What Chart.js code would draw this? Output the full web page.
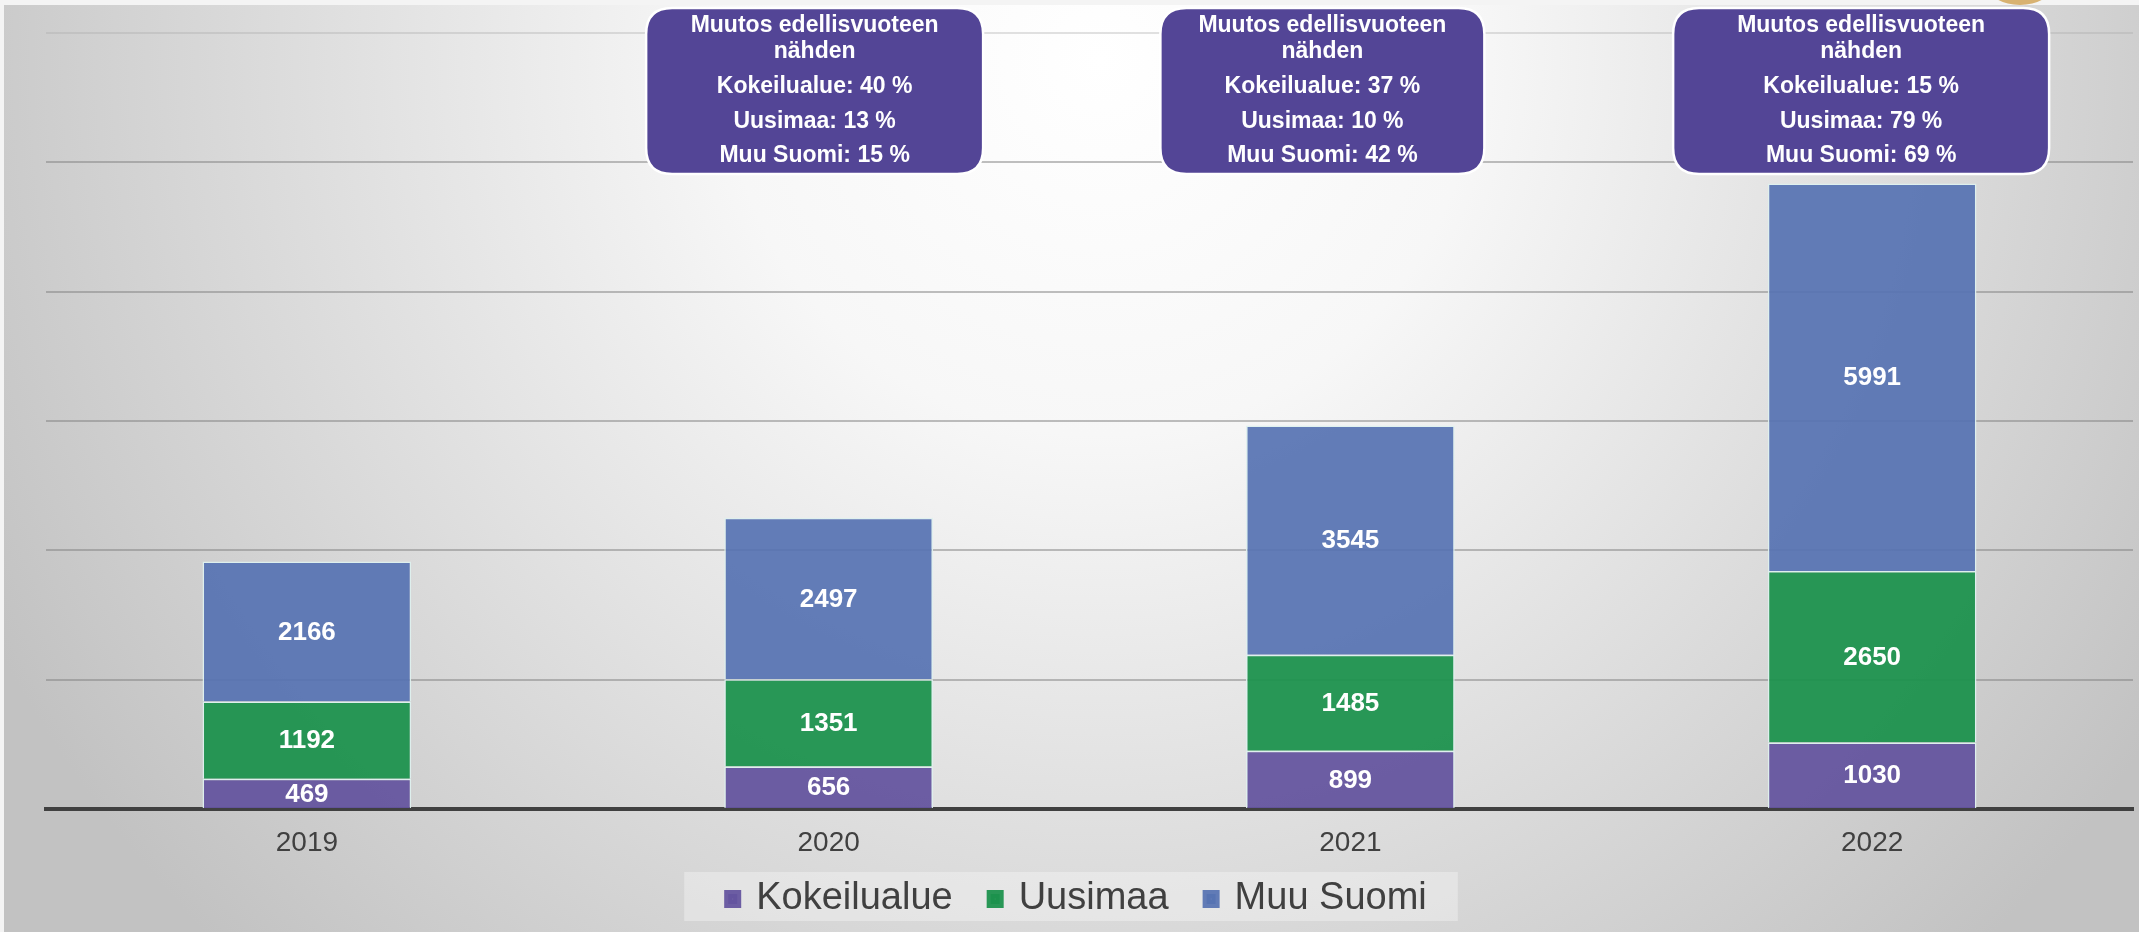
<!DOCTYPE html>
<html lang="fi">
<head>
<meta charset="utf-8">
<title>Kokeilualue, Uusimaa ja Muu Suomi 2019–2022</title>
<script src="https://cdn.jsdelivr.net/npm/chart.js@4.4.1/dist/chart.umd.min.js"></script>
<style>
  html, body { margin: 0; padding: 0; background: #fff; }
  #wrap { width: 2139px; height: 932px; }
</style>
</head>
<body>
<div id="wrap"><canvas id="chart" width="2139" height="932"></canvas></div>
<script>
// --- data ---
const years = ['2019', '2020', '2021', '2022'];
const kokeilualue = [469, 656, 899, 1030];
const uusimaa = [1192, 1351, 1485, 2650];
const muuSuomi = [2166, 2497, 3545, 5991];

// change from previous year, as printed in the boxes (%)
const changeKokeilualue = [null, 40, 37, 15];
const changeUusimaa = [null, 13, 10, 79];
const changeMuuSuomi = [null, 15, 42, 69];

const yMax = 12000;
const yStep = 2000;

// --- styling ---
const FONT = '"Liberation Sans", Arial, sans-serif';
const COLORS = {
  kokeilu: 'rgba(100, 84, 158, 0.94)',
  uusimaa: 'rgba(28, 146, 76, 0.94)',
  muu: 'rgba(86, 114, 178, 0.92)',
  edge: 'rgba(222, 240, 238, 0.95)',
  boxFill: '#534596',
  text: '#404040'
};
// annotation box placement relative to its bar (px)
const boxLayout = [null, { dx: -14, w: 337 }, { dx: -28, w: 324 }, { dx: -11, w: 376 }];

// background: soft radial grey, white frame on top/left
const backgroundPlugin = {
  id: 'slideBackground',
  beforeDraw(chart) {
    const { ctx, width, height } = chart;
    ctx.save();
    ctx.fillStyle = '#f4f4f4';
    ctx.fillRect(0, 0, width, height);
    const g = ctx.createRadialGradient(1100, 60, 0, 1100, 60, 1250);
    g.addColorStop(0, '#ffffff');
    g.addColorStop(0.3, '#f7f7f7');
    g.addColorStop(1, '#c2c2c2');
    ctx.fillStyle = g;
    ctx.fillRect(4, 5, width - 4, height - 5);
    // bit of a logo peeking in at the top right
    ctx.fillStyle = '#d8b271';
    ctx.beginPath();
    ctx.ellipse(2020, -14, 32, 19, 0, 0, Math.PI * 2);
    ctx.fill();
    ctx.restore();
  }
};

// legend rows sit higher than its label padding would put them:
// pull the legend box's top edge up (bottom stays, so nothing is clipped)
const legendNudge = {
  id: 'legendNudge',
  afterLayout(chart) {
    const lg = chart.legend;
    if (!lg) return;
    lg.top -= 17;
    lg.height += 17;
  }
};

// light panel behind the legend
const legendPanel = {
  id: 'legendPanel',
  beforeDraw(chart) {
    const lg = chart.legend;
    if (!lg || !lg.legendHitBoxes || !lg.legendHitBoxes.length) return;
    const hb = lg.legendHitBoxes;
    const first = hb[0], last = hb[hb.length - 1];
    const { ctx } = chart;
    ctx.save();
    ctx.fillStyle = 'rgba(255,255,255,0.32)';
    ctx.fillRect(first.left - 44, first.top - 8, last.left + last.width - first.left + 75, first.height + 11);
    ctx.restore();
  }
};

// values in the middle of each segment
const segmentLabels = {
  id: 'segmentLabels',
  afterDatasetsDraw(chart) {
    const { ctx } = chart;
    ctx.save();
    ctx.fillStyle = '#ffffff';
    ctx.font = 'bold 26px ' + FONT;
    ctx.textAlign = 'center';
    ctx.textBaseline = 'middle';
    chart.data.datasets.forEach((ds, di) => {
      const meta = chart.getDatasetMeta(di);
      meta.data.forEach((bar, i) => {
        const v = ds.data[i];
        if (v == null) return;
        ctx.fillText(String(v), bar.x, (bar.y + bar.base) / 2 + 1);
      });
    });
    ctx.restore();
  }
};

function roundRect(ctx, x, y, w, h, r) {
  ctx.beginPath();
  ctx.moveTo(x + r, y);
  ctx.lineTo(x + w - r, y);
  ctx.quadraticCurveTo(x + w, y, x + w, y + r);
  ctx.lineTo(x + w, y + h - r);
  ctx.quadraticCurveTo(x + w, y + h, x + w - r, y + h);
  ctx.lineTo(x + r, y + h);
  ctx.quadraticCurveTo(x, y + h, x, y + h - r);
  ctx.lineTo(x, y + r);
  ctx.quadraticCurveTo(x, y, x + r, y);
  ctx.closePath();
}

// "Muutos edellisvuoteen nähden" callouts above the bars
const changeBoxes = {
  id: 'changeBoxes',
  afterDraw(chart) {
    const { ctx } = chart;
    const xs = chart.scales.x;
    const top = chart.chartArea.top - 25;
    const h = 166;
    ctx.save();
    years.forEach((yr, i) => {
      if (changeKokeilualue[i] == null) return;
      const cx = xs.getPixelForValue(i) + boxLayout[i].dx;
      const w = boxLayout[i].w;
      roundRect(ctx, cx - w / 2, top, w, h, 26);
      ctx.fillStyle = COLORS.boxFill;
      ctx.fill();
      ctx.lineWidth = 2.5;
      ctx.strokeStyle = '#ffffff';
      ctx.stroke();

      ctx.fillStyle = '#ffffff';
      ctx.font = 'bold 23px ' + FONT;
      ctx.textAlign = 'center';
      ctx.textBaseline = 'middle';
      const lines = [
        ['Muutos edellisvuoteen', 18],
        ['nähden', 44],
        ['Kokeilualue: ' + changeKokeilualue[i] + ' %', 79],
        ['Uusimaa: ' + changeUusimaa[i] + ' %', 114],
        ['Muu Suomi: ' + changeMuuSuomi[i] + ' %', 148]
      ];
      lines.forEach(([t, dy]) => ctx.fillText(t, cx, top + dy));
    });
    ctx.restore();
  }
};

const commonBar = {
  borderColor: COLORS.edge,
  borderWidth: 1.5,
  categoryPercentage: 0.8,
  barPercentage: 0.5
};

new Chart(document.getElementById('chart'), {
  type: 'bar',
  data: {
    labels: years,
    datasets: [
      { label: 'Kokeilualue', data: kokeilualue, backgroundColor: COLORS.kokeilu, ...commonBar },
      { label: 'Uusimaa', data: uusimaa, backgroundColor: COLORS.uusimaa, ...commonBar },
      { label: 'Muu Suomi', data: muuSuomi, backgroundColor: COLORS.muu, ...commonBar }
    ]
  },
  options: {
    responsive: false,
    animation: false,
    layout: { padding: { left: 22, right: 6, top: 33, bottom: 4 } },
    plugins: {
      legend: {
        position: 'bottom',
        maxHeight: 69,
        labels: {
          color: COLORS.text,
          font: { family: FONT, size: 38 },
          // small box + thick same-colour stroke = 17x18 swatch sitting close to its text
          boxWidth: 9,
          boxHeight: 10,
          padding: 38,
          generateLabels: chart =>
            Chart.defaults.plugins.legend.labels.generateLabels(chart).map(it => ({
              ...it, strokeStyle: it.fillStyle, lineWidth: 8
            }))
        }
      },
      tooltip: { enabled: false }
    },
    scales: {
      x: {
        stacked: true,
        grid: { display: false, drawTicks: false },
        border: { display: true, color: '#404040', width: 4 },
        ticks: { color: COLORS.text, font: { family: FONT, size: 28 }, padding: 17 },
        afterFit: axis => { axis.height = 50; }
      },
      y: {
        stacked: true,
        min: 0,
        max: yMax,
        ticks: { display: false, stepSize: yStep },
        border: { display: false },
        afterFit: axis => { axis.width = 24; },
        grid: {
          drawTicks: false,
          lineWidth: 2,
          color: c => (c.tick && c.tick.value === yMax) ? 'rgba(170,170,170,0.35)' : 'rgba(128,128,128,0.5)'
        }
      }
    }
  },
  plugins: [backgroundPlugin, legendNudge, legendPanel, segmentLabels, changeBoxes]
});
</script>
</body>
</html>
